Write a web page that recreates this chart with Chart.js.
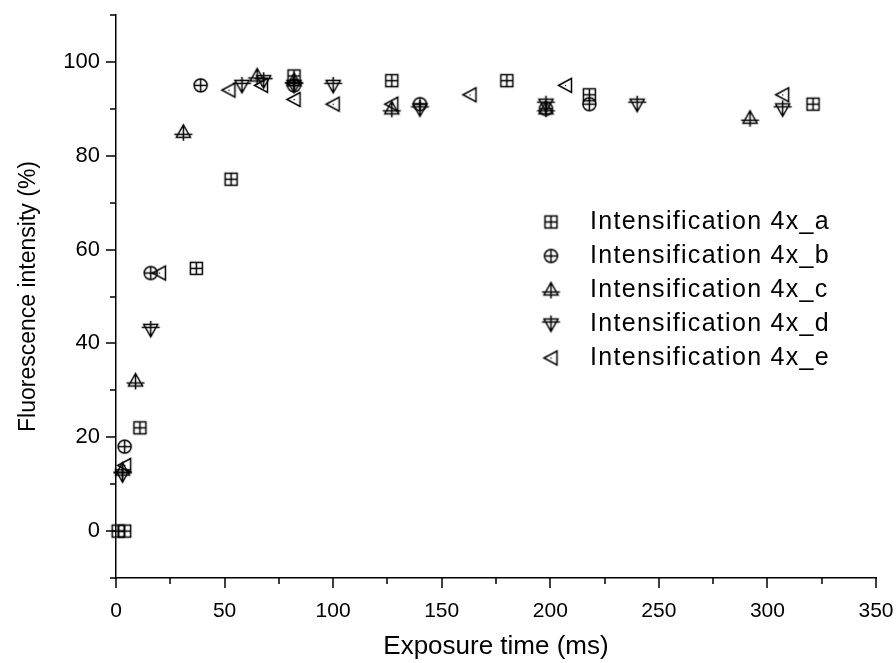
<!DOCTYPE html>
<html>
<head>
<meta charset="utf-8">
<script src="https://cdn.jsdelivr.net/npm/chart.js@4.4.0/dist/chart.umd.min.js"></script>
<style>
  html, body { margin: 0; padding: 0; background: #fff; }
</style>
</head>
<body>
<canvas id="chart" width="896" height="663"></canvas>
<script>
// series names
const seriesNames = ['Intensification 4x_a', 'Intensification 4x_b', 'Intensification 4x_c',
                     'Intensification 4x_d', 'Intensification 4x_e'];

// exposure time (ms) / fluorescence intensity (%) per series
const aTime = [1, 4, 11, 37, 53, 82, 127, 180, 218, 321];
const aInt  = [0, 0, 22, 56, 75, 97, 96, 96, 93, 91];
const bTime = [4, 16, 39, 82, 140, 198, 218];
const bInt  = [18, 55, 95, 95, 91, 90, 91];
const cTime = [3, 9, 31, 65, 82, 127, 198, 292];
const cInt  = [13, 32, 85, 97, 96, 90, 90, 88];
const dTime = [3, 16, 58, 68, 82, 100, 140, 198, 240, 307];
const dInt  = [12, 43, 95, 96, 95, 95, 90, 91, 91, 90];
const eTime = [4, 20, 52, 67, 82, 100, 127, 163, 207, 307];
const eInt  = [14, 55, 94, 95, 92, 91, 91, 93, 95, 93];

// axis ticks
const xMajor = [0, 50, 100, 150, 200, 250, 300, 350];
const xMinor = [25, 75, 125, 175, 225, 275, 325];
const yMajor = [0, 20, 40, 60, 80, 100];
const yMinor = [-10, 10, 30, 50, 70, 90, 110];

const FONT = '"Liberation Sans", Arial, sans-serif';

// marker glyphs drawn on small canvases
function makeMarker(kind) {
  const c = document.createElement('canvas');
  c.width = 21; c.height = 21;
  const g = c.getContext('2d');
  g.strokeStyle = '#000';
  g.fillStyle = '#000';
  g.lineWidth = 1.5;
  const m = 10.5;
  g.beginPath();
  if (kind === 'square') {
    g.rect(m - 6, m - 6, 12, 12);
    g.moveTo(m, m - 6); g.lineTo(m, m + 6);
    g.moveTo(m - 6, m); g.lineTo(m + 6, m);
  } else if (kind === 'circle') {
    g.arc(m, m, 6.5, 0, Math.PI * 2);
    g.moveTo(m, m - 6.5); g.lineTo(m, m + 6.5);
    g.moveTo(m - 6.5, m); g.lineTo(m + 6.5, m);
  } else if (kind === 'up') {
    g.moveTo(m, m - 7.5); g.lineTo(m + 7, m + 5); g.lineTo(m - 7, m + 5); g.closePath();
    g.moveTo(m, m - 7.5); g.lineTo(m, m + 8.5);
    g.moveTo(m - 9, m + 2); g.lineTo(m + 9, m + 2);
  } else if (kind === 'down') {
    g.moveTo(m, m + 7.5); g.lineTo(m + 7, m - 5); g.lineTo(m - 7, m - 5); g.closePath();
    g.moveTo(m, m + 7.5); g.lineTo(m, m - 8.5);
    g.moveTo(m - 9, m - 2); g.lineTo(m + 9, m - 2);
  } else if (kind === 'left') {
    g.moveTo(m - 7, m); g.lineTo(m + 6, m - 7); g.lineTo(m + 6, m + 7); g.closePath();
  }
  g.stroke();
  if (kind === 'left') g.fillRect(m - 0.5, m - 0.5, 1.2, 1.2);
  return c;
}

const markers = ['square', 'circle', 'up', 'down', 'left'].map(makeMarker);

function pairs(xs, ys) {
  return xs.map((x, i) => ({ x: x, y: ys[i] }));
}

const seriesData = [pairs(aTime, aInt), pairs(bTime, bInt), pairs(cTime, cInt),
                    pairs(dTime, dInt), pairs(eTime, eInt)];

// tick marks of two lengths, placed through the scales
const axisTicks = {
  id: 'axisTicks',
  afterDraw(chart) {
    const { ctx, chartArea, scales: { x, y } } = chart;
    ctx.save();
    ctx.strokeStyle = '#000';
    ctx.lineWidth = 1.5;
    ctx.beginPath();
    xMajor.forEach(v => {
      const p = Math.round(x.getPixelForValue(v));
      ctx.moveTo(p, chartArea.bottom); ctx.lineTo(p, chartArea.bottom + 10);
    });
    xMinor.forEach(v => {
      const p = Math.round(x.getPixelForValue(v));
      ctx.moveTo(p, chartArea.bottom); ctx.lineTo(p, chartArea.bottom + 6);
    });
    yMajor.forEach(v => {
      const p = Math.round(y.getPixelForValue(v));
      ctx.moveTo(chartArea.left, p); ctx.lineTo(chartArea.left - 10, p);
    });
    yMinor.forEach(v => {
      const p = Math.round(y.getPixelForValue(v));
      ctx.moveTo(chartArea.left, p); ctx.lineTo(chartArea.left - 6, p);
    });
    ctx.stroke();
    ctx.restore();
  }
};

// legend inside the plot area
const innerLegend = {
  id: 'innerLegend',
  afterDraw(chart) {
    const ctx = chart.ctx;
    ctx.save();
    ctx.fillStyle = '#000';
    ctx.font = '25px ' + FONT;
    ctx.textBaseline = 'middle';
    ctx.textAlign = 'left';
    if ('letterSpacing' in ctx) ctx.letterSpacing = '1.3px';
    seriesNames.forEach((name, i) => {
      const yy = 222 + i * 34;
      ctx.drawImage(markers[i], 551 - 10.5, yy - 10.5);
      ctx.fillText(name, 590, yy);
    });
    ctx.restore();
  }
};

new Chart(document.getElementById('chart').getContext('2d'), {
  type: 'scatter',
  data: {
    datasets: seriesNames.map((name, i) => ({
      label: name,
      data: seriesData[i],
      pointStyle: markers[i],
      pointRadius: 7,
      pointHoverRadius: 7,
      showLine: false,
      clip: false
    }))
  },
  options: {
    responsive: false,
    animation: false,
    layout: { padding: { left: 0, right: 20, top: 15, bottom: 0 } },
    plugins: {
      legend: { display: false },
      tooltip: { enabled: false }
    },
    scales: {
      x: {
        type: 'linear',
        min: 0, max: 350,
        afterFit: s => { s.height = 85; s.paddingLeft = 0; s.paddingRight = 0; },
        grid: { display: false },
        border: { display: true, color: '#000', width: 1.5 },
        ticks: {
          stepSize: 50, padding: 13, color: '#000', maxRotation: 0,
          font: { family: FONT, size: 21 }
        },
        title: {
          display: true, text: 'Exposure time (ms)', color: '#000',
          font: { family: FONT, size: 26 },
          padding: { top: 0, bottom: 1 }
        }
      },
      y: {
        type: 'linear',
        min: -10, max: 110,
        afterFit: s => { s.width = 116; s.paddingTop = 0; s.paddingBottom = 0; },
        grid: { display: false },
        border: { display: true, color: '#000', width: 1.5 },
        ticks: {
          stepSize: 10, padding: 8, color: '#000',
          font: { family: FONT, size: 22 },
          callback: v => (yMajor.includes(v) ? v : '')
        },
        title: {
          display: true, text: 'Fluorescence intensity (%)', color: '#000',
          font: { family: FONT, size: 23 },
          padding: { top: 15, bottom: 0 }
        }
      }
    }
  },
  plugins: [axisTicks, innerLegend]
});
</script>
</body>
</html>
